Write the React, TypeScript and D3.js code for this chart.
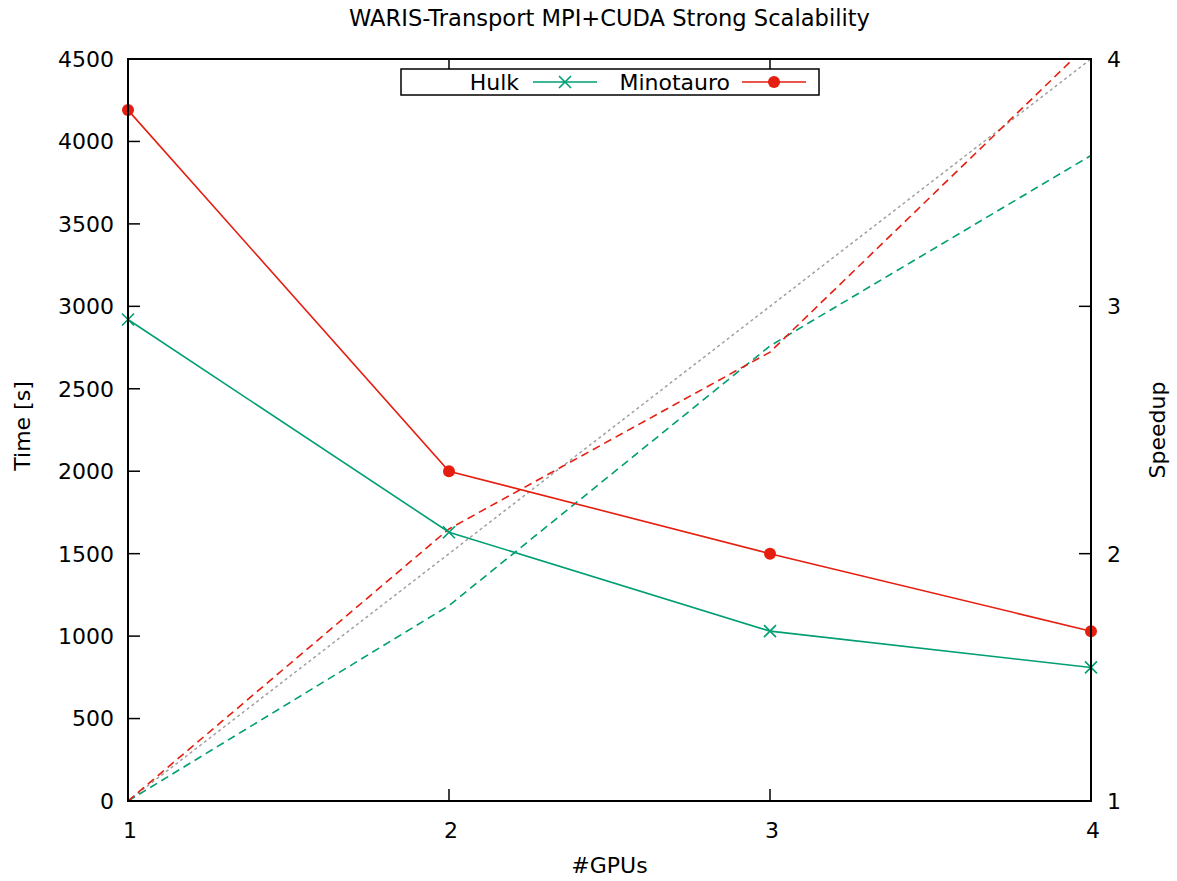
import React from "react";
import * as d3 from "d3";

const gpus = [1, 2, 3, 4];
const hulkTime = [2920, 1630, 1030, 810];
const minoTime = [4190, 2000, 1500, 1030];
const hulkSpeedup = [1, 1.79, 2.84, 3.61];
const minoSpeedup = [1, 2.1, 2.815, 4.07];
const idealSpeedup = [1, 2, 3, 4];
const timeTicks = [0, 500, 1000, 1500, 2000, 2500, 3000, 3500, 4000, 4500];
const speedTicks = [1, 2, 3, 4];
const xTicks = [1, 2, 3, 4];

const W = 1177, H = 881;
const L = 128, R = 1091, T = 59, B = 801;
const GREEN = "#009e73";
const RED = "#e51e10";
const GRAY = "#a0a0a4";
const FONT = "DejaVu Sans";
const FS = 22;

export default function App() {
  const x = d3.scaleLinear().domain([1, 4]).range([L, R]);
  const yT = d3.scaleLinear().domain([0, 4500]).range([B, T]);
  const yS = d3.scaleLinear().domain([1, 4]).range([B, T]);

  const lineT = d3.line<number>().x((_, i) => x(gpus[i])).y((d) => yT(d));
  const lineS = d3.line<number>().x((_, i) => x(gpus[i])).y((d) => yS(d));

  const cross = (cx: number, cy: number, s: number, key: string) => (
    <path key={key} d={`M${cx - s},${cy - s}L${cx + s},${cy + s}M${cx - s},${cy + s}L${cx + s},${cy - s}`} stroke={GREEN} strokeWidth={1.6} fill="none" />
  );

  return (
    <svg width={W} height={H} style={{ position: "absolute", left: 0, top: 0, background: "#fff" }} fontFamily={FONT} fontSize={FS}>
      <defs>
        <clipPath id="plot">
          <rect x={L} y={T} width={R - L} height={B - T} />
        </clipPath>
      </defs>
      <rect x={0} y={0} width={W} height={H} fill="#fff" />
      <text x={(L + R) / 2} y={26} textAnchor="middle" fontSize={22.6}>WARIS-Transport MPI+CUDA Strong Scalability</text>

      {timeTicks.map((t) => (
        <g key={"lt" + t}>
          {t > 0 && t < 4500 && <line x1={L} x2={L + 12} y1={yT(t)} y2={yT(t)} stroke="#000" strokeWidth={1.5} />}
          <text x={L - 14} y={yT(t)} dy="0.36em" textAnchor="end">{t}</text>
        </g>
      ))}
      {speedTicks.map((t) => (
        <g key={"rt" + t}>
          {t > 1 && t < 4 && <line x1={R} x2={R - 12} y1={yS(t)} y2={yS(t)} stroke="#000" strokeWidth={1.5} />}
          <text x={R + 16} y={yS(t)} dy="0.36em" textAnchor="start">{t}</text>
        </g>
      ))}
      {xTicks.map((t) => (
        <g key={"xt" + t}>
          {t > 1 && t < 4 && <line x1={x(t)} x2={x(t)} y1={B} y2={B - 12} stroke="#000" strokeWidth={1.5} />}
          {t > 1 && t < 4 && <line x1={x(t)} x2={x(t)} y1={T} y2={T + 12} stroke="#000" strokeWidth={1.5} />}
          <text x={x(t) + 2} y={B + 37} textAnchor="middle">{t}</text>
        </g>
      ))}

      <text transform={`translate(30,${(T + B) / 2 - 4}) rotate(-90)`} textAnchor="middle">Time [s]</text>
      <text transform={`translate(1165,${(T + B) / 2}) rotate(-90)`} textAnchor="middle">Speedup</text>
      <text x={(L + R) / 2} y={873} textAnchor="middle">#GPUs</text>

      <g clipPath="url(#plot)">
        <path d={lineS(idealSpeedup) || ""} stroke={GRAY} strokeWidth={1.5} fill="none" strokeDasharray="3,3" />
        <path d={lineS(hulkSpeedup) || ""} stroke={GREEN} strokeWidth={1.6} fill="none" strokeDasharray="8,5" />
        <path d={lineS(minoSpeedup) || ""} stroke={RED} strokeWidth={1.6} fill="none" strokeDasharray="8,5" />
      </g>
      <path d={lineT(hulkTime) || ""} stroke={GREEN} strokeWidth={1.6} fill="none" />
      <path d={lineT(minoTime) || ""} stroke={RED} strokeWidth={1.6} fill="none" />
      {hulkTime.map((v, i) => cross(x(gpus[i]), yT(v), 6, "hx" + i))}
      {minoTime.map((v, i) => (
        <circle key={"mc" + i} cx={x(gpus[i])} cy={yT(v)} r={6} fill={RED} />
      ))}

      <rect x={L} y={T} width={R - L} height={B - T} fill="none" stroke="#000" strokeWidth={2} />

      <rect x={401} y={69} width={418} height={26} fill="#fff" stroke="#000" strokeWidth={1.5} />
      <text x={519} y={82} dy="0.36em" textAnchor="end">Hulk</text>
      <line x1={533} x2={597} y1={82} y2={82} stroke={GREEN} strokeWidth={1.6} />
      {cross(565, 82, 6, "lgx")}
      <text x={730} y={82} dy="0.36em" textAnchor="end">Minotauro</text>
      <line x1={742} x2={806} y1={82} y2={82} stroke={RED} strokeWidth={1.6} />
      <circle cx={774} cy={82} r={6} fill={RED} />
    </svg>
  );
}
